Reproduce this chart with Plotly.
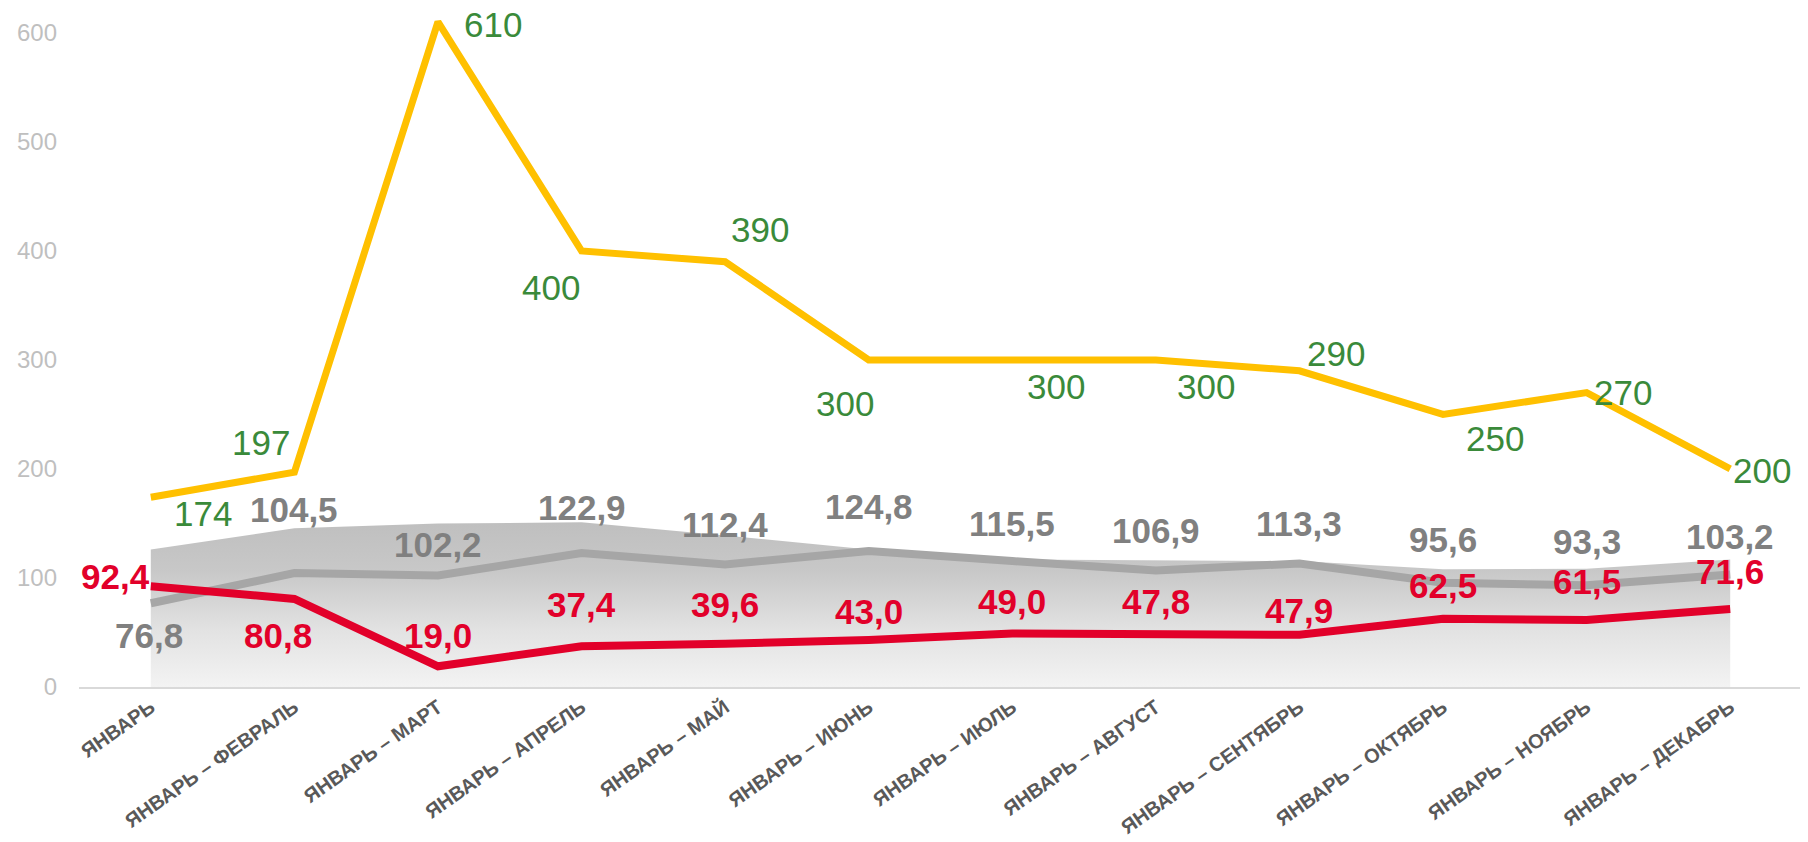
import plotly.graph_objects as go

categories = ["ЯНВАРЬ", "ЯНВАРЬ – ФЕВРАЛЬ", "ЯНВАРЬ – МАРТ", "ЯНВАРЬ – АПРЕЛЬ",
              "ЯНВАРЬ – МАЙ", "ЯНВАРЬ – ИЮНЬ", "ЯНВАРЬ – ИЮЛЬ", "ЯНВАРЬ – АВГУСТ",
              "ЯНВАРЬ – СЕНТЯБРЬ", "ЯНВАРЬ – ОКТЯБРЬ", "ЯНВАРЬ – НОЯБРЬ", "ЯНВАРЬ – ДЕКАБРЬ"]

area_values = [126, 145.5, 150, 151, 139, 126, 117, 116, 115.5, 108, 108.5, 117]
yellow_values = [174, 197, 610, 400, 390, 300, 300, 300, 290, 250, 270, 200]
gray_values = [76.8, 104.5, 102.2, 122.9, 112.4, 124.8, 115.5, 106.9, 113.3, 95.6, 93.3, 103.2]
red_values = [92.4, 80.8, 19.0, 37.4, 39.6, 43.0, 49.0, 47.8, 47.9, 62.5, 61.5, 71.6]

y_ticks = [0, 100, 200, 300, 400, 500, 600]

# label offsets in pixels (dx right, dy down)
yellow_off = [(52, 16), (-33, -30), (55, 3), (-31, 37), (35, -32), (-24, 44),
              (44, 27), (50, 27), (37, -17), (52, 24), (36, 0), (32, 2)]
gray_off = [(-2, 32), (0, -64), (0, -31), (0, -46), (0, -40), (0, -44),
            (0, -38), (0, -40), (0, -40), (0, -43), (0, -44), (0, -38)]
red_off = [(-35, -10), (-16, 37), (0, -31), (0, -42), (0, -39), (0, -29),
           (0, -32), (0, -33), (0, -24), (0, -33), (0, -38), (0, -37)]

YELLOW = "#FFC000"
GREEN = "#3A8A3A"
GRAY_LINE = "#A6A6A6"
GRAY_TEXT = "#808080"
RED = "#E2002A"
FONT = "Liberation Sans, Arial, sans-serif"

fig = go.Figure()

fig.add_trace(go.Scatter(
    x=categories, y=area_values, mode="lines", line=dict(width=0),
    fill="tozeroy",
    fillgradient=dict(type="vertical",
                      colorscale=[[0, "#F3F3F3"], [0.35, "#E2E2E2"], [0.7, "#C8C8C8"], [1, "#BFBFBF"]]),
    hoverinfo="skip", showlegend=False))

fig.add_trace(go.Scatter(x=categories, y=gray_values, mode="lines",
                         line=dict(color=GRAY_LINE, width=8), showlegend=False))
fig.add_trace(go.Scatter(x=categories, y=red_values, mode="lines",
                         line=dict(color=RED, width=8), showlegend=False))
fig.add_trace(go.Scatter(x=categories, y=yellow_values, mode="lines",
                         line=dict(color=YELLOW, width=7), showlegend=False))


def fmt(v):
    return f"{v:.1f}".replace(".", ",")


annotations = []
for c, v, (dx, dy) in zip(categories, yellow_values, yellow_off):
    annotations.append(dict(x=c, y=v, text=str(v), showarrow=False, xshift=dx, yshift=-dy,
                            font=dict(family=FONT, size=35, color=GREEN)))
for c, v, (dx, dy) in zip(categories, gray_values, gray_off):
    annotations.append(dict(x=c, y=v, text=f"<b>{fmt(v)}</b>", showarrow=False, xshift=dx, yshift=-dy,
                            font=dict(family=FONT, size=35, color=GRAY_TEXT)))
for c, v, (dx, dy) in zip(categories, red_values, red_off):
    annotations.append(dict(x=c, y=v, text=f"<b>{fmt(v)}</b>", showarrow=False, xshift=dx, yshift=-dy,
                            font=dict(family=FONT, size=35, color=RED)))

# the page body adds an 8px margin, so the figure is sized to fit the window
fig.update_layout(
    width=1800, height=834,
    margin=dict(l=71, r=6, t=3, b=155),
    paper_bgcolor="white", plot_bgcolor="white",
    annotations=annotations,
    showlegend=False,
    xaxis=dict(
        range=[-0.5, 11.5], showgrid=False, zeroline=False, automargin=False,
        showline=True, linecolor="#D9D9D9", linewidth=2,
        ticks="", tickangle=-35, ticklabelstandoff=-1,
        tickfont=dict(family=FONT, size=20, color="#595959", weight="bold"),
    ),
    yaxis=dict(
        range=[0, 620], showgrid=False, zeroline=False, showline=False, automargin=False,
        tickvals=y_ticks, ticks="",
        tickfont=dict(family=FONT, size=24, color="#BFBFBF"),
        ticklabelstandoff=21,
    ),
)

fig.write_html("out.html")
